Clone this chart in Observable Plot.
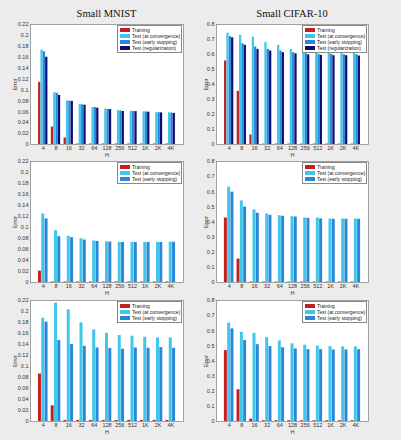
<!DOCTYPE html>
<html><head><meta charset="utf-8">
<script src="https://cdn.jsdelivr.net/npm/d3@7"></script>
<script src="https://cdn.jsdelivr.net/npm/@observablehq/plot@0.6"></script>
<style>
body{margin:0;background:#ececec;}
#fig{position:relative;width:401px;height:440px;background:#ececec;overflow:hidden;font-family:"Liberation Sans",Arial,sans-serif;}
.panel{position:absolute;}
.panel svg{overflow:visible;background:transparent;}
.title{position:absolute;font-family:"Liberation Serif","Times New Roman",serif;font-size:10.5px;color:#111;transform:translateX(-50%);white-space:nowrap;line-height:12px;}
.legend{position:absolute;background:#fff;border:0.7px solid #888;font-size:5px;color:#222;box-sizing:border-box;padding:0.5px 0;}
.legend .row{display:flex;align-items:center;height:6.2px;white-space:nowrap;}
.legend .sw{width:10px;height:4px;margin:0 2px 0 2px;flex:none;}
</style></head><body><div id="fig"></div>
<script>
const H = ["4","8","16","32","64","128","256","512","1K","2K","4K"];
const seriesNames = ["Training","Test (at convergence)","Test (early stopping)","Test (regularization)"];
const seriesColors = ["#c41e1e","#3fc6ea","#2a86d8","#0e0e72"];
const mnistTicks = [0,0.02,0.04,0.06,0.08,0.1,0.12,0.14,0.16,0.18,0.2,0.22];
const cifarTicks = [0,0.1,0.2,0.3,0.4,0.5,0.6,0.7,0.8];

// Row 1
const mnist1Train = [0.114,0.032,0.012,0.001,0.001,0.001,0.001,0.001,0.001,0.001,0.001];
const mnist1Conv  = [0.173,0.095,0.080,0.073,0.068,0.065,0.062,0.061,0.060,0.0585,0.058];
const mnist1Early = [0.170,0.094,0.0795,0.0728,0.0678,0.0645,0.0615,0.0605,0.0597,0.0583,0.0577];
const mnist1Reg   = [0.160,0.090,0.079,0.072,0.0666,0.064,0.0605,0.0603,0.0593,0.058,0.057];
const cifar1Train = [0.557,0.354,0.064,0.003,0.003,0.003,0.003,0.003,0.003,0.003,0.003];
const cifar1Conv  = [0.742,0.727,0.716,0.681,0.661,0.634,0.619,0.614,0.610,0.608,0.608];
const cifar1Early = [0.720,0.672,0.650,0.634,0.623,0.612,0.605,0.601,0.601,0.599,0.599];
const cifar1Reg   = [0.711,0.661,0.634,0.623,0.612,0.605,0.597,0.594,0.592,0.592,0.590];
// Row 2
const mnist2Train = [0.0207,0.001,0.001,0.001,0.001,0.001,0.001,0.001,0.001,0.001,0.001];
const mnist2Conv  = [0.1246,0.0942,0.0839,0.0796,0.0754,0.0741,0.073,0.073,0.073,0.073,0.0735];
const mnist2Early = [0.1155,0.0833,0.0814,0.0772,0.0748,0.0735,0.0727,0.0727,0.0727,0.0727,0.0732];
const cifar2Train = [0.4265,0.1547,0.003,0.003,0.003,0.003,0.003,0.003,0.003,0.003,0.003];
const cifar2Conv  = [0.630,0.539,0.480,0.453,0.442,0.435,0.4265,0.4265,0.420,0.420,0.420];
const cifar2Early = [0.597,0.499,0.4575,0.444,0.4376,0.433,0.424,0.420,0.4177,0.418,0.418];
// Row 3
const mnist3Train = [0.0863,0.0286,0.002,0.002,0.002,0.002,0.002,0.002,0.002,0.002,0.002];
const mnist3Conv  = [0.1878,0.2151,0.203,0.1793,0.1665,0.1604,0.1562,0.155,0.1531,0.1519,0.1519];
const mnist3Early = [0.1805,0.1471,0.1398,0.1367,0.1337,0.1325,0.1313,0.1337,0.1331,0.1343,0.1331];
const cifar3Train = [0.4685,0.21,0.0155,0.005,0.005,0.005,0.005,0.005,0.005,0.005,0.005];
const cifar3Conv  = [0.650,0.590,0.583,0.555,0.533,0.513,0.504,0.499,0.495,0.493,0.493];
const cifar3Early = [0.612,0.535,0.508,0.495,0.488,0.480,0.475,0.475,0.473,0.473,0.475];

const fig = document.getElementById("fig");

const L = {left:0, width:195, ml:30, mr:12, labelOff:17};
const R = {left:200, width:201, ml:16, mr:33, labelOff:12.5};
const rows = [{frameTop:24, frameH:120},{frameTop:161, frameH:121},{frameTop:300, frameH:121}];

const panels = [
  {col:L, row:0, ymax:0.22, ticks:mnistTicks, series:[mnist1Train,mnist1Conv,mnist1Early,mnist1Reg], title:"Small MNIST"},
  {col:R, row:0, ymax:0.8, ticks:cifarTicks, series:[cifar1Train,cifar1Conv,cifar1Early,cifar1Reg], title:"Small CIFAR-10"},
  {col:L, row:1, ymax:0.22, ticks:mnistTicks, series:[mnist2Train,mnist2Conv,mnist2Early]},
  {col:R, row:1, ymax:0.8, ticks:cifarTicks, series:[cifar2Train,cifar2Conv,cifar2Early]},
  {col:L, row:2, ymax:0.22, ticks:mnistTicks, series:[mnist3Train,mnist3Conv,mnist3Early]},
  {col:R, row:2, ymax:0.8, ticks:cifarTicks, series:[cifar3Train,cifar3Conv,cifar3Early]},
];

for (const p of panels) {
  const r = rows[p.row], c = p.col;
  const mt = 10, mb = 18;
  const n = p.series.length;
  const spacing = n === 4 ? 0.185 : 0.26;
  const w = spacing * (n === 4 ? 0.95 : 0.9);
  const marks = [Plot.frame({fill:"white"})];
  p.series.forEach((vals, s) => {
    const data = vals.map((v, i) => {
      const center = i + 1 + (s - (n - 1) / 2) * spacing;
      return {x1: center - w/2, x2: center + w/2, y: v};
    });
    marks.push(Plot.rectY(data, {x1:"x1", x2:"x2", y:"y", fill: seriesColors[s]}));
  });
  marks.push(Plot.frame({stroke:"#8a8a8a", strokeWidth:0.8}));
  marks.push(Plot.axisX({ticks: d3.range(1, H.length + 1), tickFormat: i => H[i-1], tickSize:0, tickPadding:1.5,
    label:"H", labelAnchor:"center", labelArrow:"none", labelOffset:12, fill:"#333"}));
  marks.push(Plot.axisY({ticks: p.ticks, tickFormat: v => String(v), tickSize:0, tickPadding:2,
    label:"Error", labelAnchor:"center", labelArrow:"none", labelOffset:c.labelOff, fill:"#333"}));
  const svg = Plot.plot({
    width: c.width, height: r.frameH + mt + mb,
    marginLeft: c.ml, marginRight: c.mr, marginTop: mt, marginBottom: mb,
    x: {domain:[0, H.length + 1]},
    y: {domain:[0, p.ymax]},
    style: {fontSize:"5.5px", fontFamily:"'Liberation Sans', Arial, sans-serif", background:"transparent", color:"#333", overflow:"visible"},
    marks
  });
  const div = document.createElement("div");
  div.className = "panel";
  div.style.left = c.left + "px";
  div.style.top = (r.frameTop - mt) + "px";
  div.appendChild(svg);
  fig.appendChild(div);

  const frameLeft = c.left + c.ml, frameRight = c.left + c.width - c.mr;
  if (p.title) {
    const t = document.createElement("div");
    t.className = "title";
    t.textContent = p.title;
    t.style.left = ((frameLeft + frameRight) / 2) + "px";
    t.style.top = (r.frameTop - 16) + "px";
    fig.appendChild(t);
  }
  const lg = document.createElement("div");
  lg.className = "legend";
  lg.style.width = "65px";
  lg.style.left = (frameRight - 66) + "px";
  lg.style.top = (r.frameTop + 1) + "px";
  for (let s = 0; s < n; s++) {
    const row = document.createElement("div");
    row.className = "row";
    const sw = document.createElement("span");
    sw.className = "sw";
    sw.style.background = seriesColors[s];
    const tx = document.createElement("span");
    tx.textContent = seriesNames[s];
    row.appendChild(sw); row.appendChild(tx);
    lg.appendChild(row);
  }
  fig.appendChild(lg);
}
</script></body></html>
